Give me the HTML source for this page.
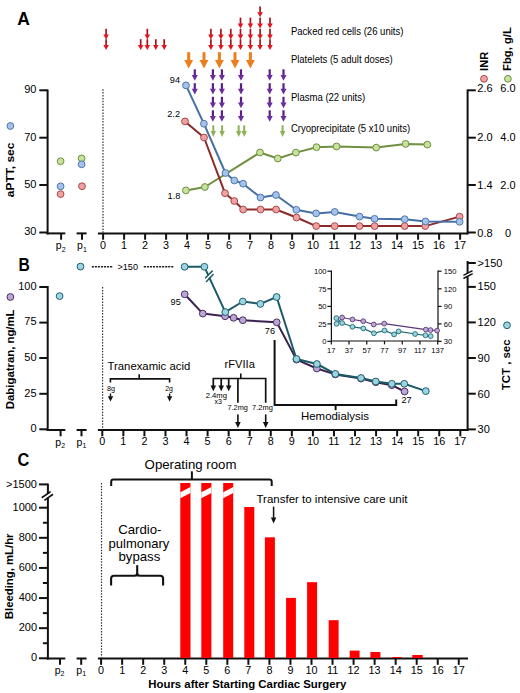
<!DOCTYPE html>
<html><head><meta charset="utf-8"><style>
html,body{margin:0;padding:0;background:#fff;width:520px;height:693px;overflow:hidden}
svg{display:block}
text{font-family:"Liberation Sans", sans-serif}
</style></head><body>
<svg width="520" height="693" viewBox="0 0 520 693">
<rect width="520" height="693" fill="#fff"/>
<!-- panel A -->
<text x="17.30" y="24.80" font-size="17.5" text-anchor="start" font-weight="bold" fill="#000" >A</text>
<rect x="105.25" y="28.80" width="1.7" height="6.40" fill="#a8121e"/>
<polygon points="103.35,34.60 108.85,34.60 106.10,39.60" fill="#e3141e"/>
<rect x="105.25" y="39.20" width="1.7" height="6.40" fill="#a8121e"/>
<polygon points="103.35,45.00 108.85,45.00 106.10,50.00" fill="#e3141e"/>
<rect x="139.85" y="39.20" width="1.7" height="6.40" fill="#a8121e"/>
<polygon points="137.95,45.00 143.45,45.00 140.70,50.00" fill="#e3141e"/>
<rect x="146.45" y="28.80" width="1.7" height="6.40" fill="#a8121e"/>
<polygon points="144.55,34.60 150.05,34.60 147.30,39.60" fill="#e3141e"/>
<rect x="146.45" y="39.20" width="1.7" height="6.40" fill="#a8121e"/>
<polygon points="144.55,45.00 150.05,45.00 147.30,50.00" fill="#e3141e"/>
<rect x="154.95" y="39.20" width="1.7" height="6.40" fill="#a8121e"/>
<polygon points="153.05,45.00 158.55,45.00 155.80,50.00" fill="#e3141e"/>
<rect x="163.35" y="39.20" width="1.7" height="6.40" fill="#a8121e"/>
<polygon points="161.45,45.00 166.95,45.00 164.20,50.00" fill="#e3141e"/>
<rect x="210.05" y="28.80" width="1.7" height="6.40" fill="#a8121e"/>
<polygon points="208.15,34.60 213.65,34.60 210.90,39.60" fill="#e3141e"/>
<rect x="210.05" y="39.20" width="1.7" height="6.40" fill="#a8121e"/>
<polygon points="208.15,45.00 213.65,45.00 210.90,50.00" fill="#e3141e"/>
<rect x="220.05" y="28.80" width="1.7" height="6.40" fill="#a8121e"/>
<polygon points="218.15,34.60 223.65,34.60 220.90,39.60" fill="#e3141e"/>
<rect x="220.05" y="39.20" width="1.7" height="6.40" fill="#a8121e"/>
<polygon points="218.15,45.00 223.65,45.00 220.90,50.00" fill="#e3141e"/>
<rect x="229.95" y="28.80" width="1.7" height="6.40" fill="#a8121e"/>
<polygon points="228.05,34.60 233.55,34.60 230.80,39.60" fill="#e3141e"/>
<rect x="229.95" y="39.20" width="1.7" height="6.40" fill="#a8121e"/>
<polygon points="228.05,45.00 233.55,45.00 230.80,50.00" fill="#e3141e"/>
<rect x="239.65" y="17.60" width="1.7" height="6.40" fill="#a8121e"/>
<polygon points="237.75,23.40 243.25,23.40 240.50,28.40" fill="#e3141e"/>
<rect x="239.65" y="28.80" width="1.7" height="6.40" fill="#a8121e"/>
<polygon points="237.75,34.60 243.25,34.60 240.50,39.60" fill="#e3141e"/>
<rect x="239.65" y="39.20" width="1.7" height="6.40" fill="#a8121e"/>
<polygon points="237.75,45.00 243.25,45.00 240.50,50.00" fill="#e3141e"/>
<rect x="249.55" y="17.60" width="1.7" height="6.40" fill="#a8121e"/>
<polygon points="247.65,23.40 253.15,23.40 250.40,28.40" fill="#e3141e"/>
<rect x="249.55" y="28.80" width="1.7" height="6.40" fill="#a8121e"/>
<polygon points="247.65,34.60 253.15,34.60 250.40,39.60" fill="#e3141e"/>
<rect x="249.55" y="39.20" width="1.7" height="6.40" fill="#a8121e"/>
<polygon points="247.65,45.00 253.15,45.00 250.40,50.00" fill="#e3141e"/>
<rect x="259.25" y="6.40" width="1.7" height="6.40" fill="#a8121e"/>
<polygon points="257.35,12.20 262.85,12.20 260.10,17.20" fill="#e3141e"/>
<rect x="259.25" y="17.60" width="1.7" height="6.40" fill="#a8121e"/>
<polygon points="257.35,23.40 262.85,23.40 260.10,28.40" fill="#e3141e"/>
<rect x="259.25" y="28.80" width="1.7" height="6.40" fill="#a8121e"/>
<polygon points="257.35,34.60 262.85,34.60 260.10,39.60" fill="#e3141e"/>
<rect x="259.25" y="39.20" width="1.7" height="6.40" fill="#a8121e"/>
<polygon points="257.35,45.00 262.85,45.00 260.10,50.00" fill="#e3141e"/>
<rect x="269.15" y="17.60" width="1.7" height="6.40" fill="#a8121e"/>
<polygon points="267.25,23.40 272.75,23.40 270.00,28.40" fill="#e3141e"/>
<rect x="269.15" y="28.80" width="1.7" height="6.40" fill="#a8121e"/>
<polygon points="267.25,34.60 272.75,34.60 270.00,39.60" fill="#e3141e"/>
<rect x="269.15" y="39.20" width="1.7" height="6.40" fill="#a8121e"/>
<polygon points="267.25,45.00 272.75,45.00 270.00,50.00" fill="#e3141e"/>
<rect x="187.20" y="52.20" width="3.0" height="8.40" fill="#ee7d1b"/>
<polygon points="184.30,60.00 193.10,60.00 188.70,68.60" fill="#ee7d1b"/>
<rect x="202.50" y="52.20" width="3.0" height="8.40" fill="#ee7d1b"/>
<polygon points="199.60,60.00 208.40,60.00 204.00,68.60" fill="#ee7d1b"/>
<rect x="217.90" y="52.20" width="3.0" height="8.40" fill="#ee7d1b"/>
<polygon points="215.00,60.00 223.80,60.00 219.40,68.60" fill="#ee7d1b"/>
<rect x="233.50" y="52.20" width="3.0" height="8.40" fill="#ee7d1b"/>
<polygon points="230.60,60.00 239.40,60.00 235.00,68.60" fill="#ee7d1b"/>
<rect x="248.90" y="52.20" width="3.0" height="8.40" fill="#ee7d1b"/>
<polygon points="246.00,60.00 254.80,60.00 250.40,68.60" fill="#ee7d1b"/>
<rect x="193.70" y="69.30" width="2.2" height="6.20" fill="#5a2088"/>
<polygon points="191.80,74.90 197.80,74.90 194.80,80.70" fill="#6b2c9e"/>
<rect x="193.70" y="83.20" width="2.2" height="6.20" fill="#5a2088"/>
<polygon points="191.80,88.80 197.80,88.80 194.80,94.60" fill="#6b2c9e"/>
<rect x="211.80" y="69.30" width="2.2" height="6.20" fill="#5a2088"/>
<polygon points="209.90,74.90 215.90,74.90 212.90,80.70" fill="#6b2c9e"/>
<rect x="211.80" y="83.20" width="2.2" height="6.20" fill="#5a2088"/>
<polygon points="209.90,88.80 215.90,88.80 212.90,94.60" fill="#6b2c9e"/>
<rect x="211.80" y="96.80" width="2.2" height="6.20" fill="#5a2088"/>
<polygon points="209.90,102.40 215.90,102.40 212.90,108.20" fill="#6b2c9e"/>
<rect x="211.80" y="110.30" width="2.2" height="6.20" fill="#5a2088"/>
<polygon points="209.90,115.90 215.90,115.90 212.90,121.70" fill="#6b2c9e"/>
<rect x="220.80" y="69.30" width="2.2" height="6.20" fill="#5a2088"/>
<polygon points="218.90,74.90 224.90,74.90 221.90,80.70" fill="#6b2c9e"/>
<rect x="220.80" y="83.20" width="2.2" height="6.20" fill="#5a2088"/>
<polygon points="218.90,88.80 224.90,88.80 221.90,94.60" fill="#6b2c9e"/>
<rect x="220.80" y="96.80" width="2.2" height="6.20" fill="#5a2088"/>
<polygon points="218.90,102.40 224.90,102.40 221.90,108.20" fill="#6b2c9e"/>
<rect x="220.80" y="110.30" width="2.2" height="6.20" fill="#5a2088"/>
<polygon points="218.90,115.90 224.90,115.90 221.90,121.70" fill="#6b2c9e"/>
<rect x="239.90" y="69.30" width="2.2" height="6.20" fill="#5a2088"/>
<polygon points="238.00,74.90 244.00,74.90 241.00,80.70" fill="#6b2c9e"/>
<rect x="239.90" y="83.20" width="2.2" height="6.20" fill="#5a2088"/>
<polygon points="238.00,88.80 244.00,88.80 241.00,94.60" fill="#6b2c9e"/>
<rect x="239.90" y="96.80" width="2.2" height="6.20" fill="#5a2088"/>
<polygon points="238.00,102.40 244.00,102.40 241.00,108.20" fill="#6b2c9e"/>
<rect x="239.90" y="110.30" width="2.2" height="6.20" fill="#5a2088"/>
<polygon points="238.00,115.90 244.00,115.90 241.00,121.70" fill="#6b2c9e"/>
<rect x="268.60" y="69.30" width="2.2" height="6.20" fill="#5a2088"/>
<polygon points="266.70,74.90 272.70,74.90 269.70,80.70" fill="#6b2c9e"/>
<rect x="268.60" y="83.20" width="2.2" height="6.20" fill="#5a2088"/>
<polygon points="266.70,88.80 272.70,88.80 269.70,94.60" fill="#6b2c9e"/>
<rect x="268.60" y="96.80" width="2.2" height="6.20" fill="#5a2088"/>
<polygon points="266.70,102.40 272.70,102.40 269.70,108.20" fill="#6b2c9e"/>
<rect x="268.60" y="110.30" width="2.2" height="6.20" fill="#5a2088"/>
<polygon points="266.70,115.90 272.70,115.90 269.70,121.70" fill="#6b2c9e"/>
<rect x="282.40" y="69.30" width="2.2" height="6.20" fill="#5a2088"/>
<polygon points="280.50,74.90 286.50,74.90 283.50,80.70" fill="#6b2c9e"/>
<rect x="282.40" y="83.20" width="2.2" height="6.20" fill="#5a2088"/>
<polygon points="280.50,88.80 286.50,88.80 283.50,94.60" fill="#6b2c9e"/>
<rect x="282.40" y="96.80" width="2.2" height="6.20" fill="#5a2088"/>
<polygon points="280.50,102.40 286.50,102.40 283.50,108.20" fill="#6b2c9e"/>
<rect x="282.40" y="110.30" width="2.2" height="6.20" fill="#5a2088"/>
<polygon points="280.50,115.90 286.50,115.90 283.50,121.70" fill="#6b2c9e"/>
<rect x="212.30" y="125.30" width="2.0" height="6.30" fill="#8db255"/>
<polygon points="210.60,131.00 216.00,131.00 213.30,137.00" fill="#8db255"/>
<rect x="221.10" y="125.30" width="2.0" height="6.30" fill="#8db255"/>
<polygon points="219.40,131.00 224.80,131.00 222.10,137.00" fill="#8db255"/>
<rect x="237.70" y="125.30" width="2.0" height="6.30" fill="#8db255"/>
<polygon points="236.00,131.00 241.40,131.00 238.70,137.00" fill="#8db255"/>
<rect x="243.20" y="125.30" width="2.0" height="6.30" fill="#8db255"/>
<polygon points="241.50,131.00 246.90,131.00 244.20,137.00" fill="#8db255"/>
<rect x="281.60" y="125.30" width="2.0" height="6.30" fill="#8db255"/>
<polygon points="279.90,131.00 285.30,131.00 282.60,137.00" fill="#8db255"/>
<text x="290.90" y="35.10" font-size="10.4" text-anchor="start" font-weight="normal" fill="#000" textLength="112.60" lengthAdjust="spacingAndGlyphs" >Packed red cells (26 units)</text>
<text x="290.90" y="62.70" font-size="10.4" text-anchor="start" font-weight="normal" fill="#000" textLength="101.80" lengthAdjust="spacingAndGlyphs" >Platelets (5 adult doses)</text>
<text x="290.90" y="100.60" font-size="10.4" text-anchor="start" font-weight="normal" fill="#000" textLength="74.30" lengthAdjust="spacingAndGlyphs" >Plasma (22 units)</text>
<text x="290.90" y="132.20" font-size="10.4" text-anchor="start" font-weight="normal" fill="#000" textLength="119.30" lengthAdjust="spacingAndGlyphs" >Cryoprecipitate (5 x10 units)</text>
<line x1="47.60" y1="89.50" x2="47.60" y2="234.40" stroke="#111" stroke-width="2" />
<line x1="39.30" y1="90.30" x2="47.60" y2="90.30" stroke="#111" stroke-width="2" />
<text x="36.40" y="93.10" font-size="11" text-anchor="end" font-weight="normal" fill="#000" >90</text>
<line x1="39.30" y1="137.70" x2="47.60" y2="137.70" stroke="#111" stroke-width="2" />
<text x="36.40" y="140.50" font-size="11" text-anchor="end" font-weight="normal" fill="#000" >70</text>
<line x1="39.30" y1="185.00" x2="47.60" y2="185.00" stroke="#111" stroke-width="2" />
<text x="36.40" y="187.80" font-size="11" text-anchor="end" font-weight="normal" fill="#000" >50</text>
<line x1="39.30" y1="232.50" x2="47.60" y2="232.50" stroke="#111" stroke-width="2" />
<text x="36.40" y="235.30" font-size="11" text-anchor="end" font-weight="normal" fill="#000" >30</text>
<line x1="46.60" y1="233.40" x2="65.30" y2="233.40" stroke="#111" stroke-width="2" />
<line x1="76.60" y1="233.40" x2="86.60" y2="233.40" stroke="#111" stroke-width="2" />
<line x1="97.90" y1="233.40" x2="468.00" y2="233.40" stroke="#111" stroke-width="2" />
<line x1="61.10" y1="233.40" x2="61.10" y2="239.70" stroke="#111" stroke-width="2" />
<line x1="82.00" y1="233.40" x2="82.00" y2="239.70" stroke="#111" stroke-width="2" />
<line x1="103.10" y1="233.40" x2="103.10" y2="239.70" stroke="#111" stroke-width="2" />
<text x="103.10" y="249.00" font-size="10.8" text-anchor="middle" font-weight="normal" fill="#000" >0</text>
<line x1="124.10" y1="233.40" x2="124.10" y2="239.70" stroke="#111" stroke-width="2" />
<text x="124.10" y="249.00" font-size="10.8" text-anchor="middle" font-weight="normal" fill="#000" >1</text>
<line x1="145.10" y1="233.40" x2="145.10" y2="239.70" stroke="#111" stroke-width="2" />
<text x="145.10" y="249.00" font-size="10.8" text-anchor="middle" font-weight="normal" fill="#000" >2</text>
<line x1="166.10" y1="233.40" x2="166.10" y2="239.70" stroke="#111" stroke-width="2" />
<text x="166.10" y="249.00" font-size="10.8" text-anchor="middle" font-weight="normal" fill="#000" >3</text>
<line x1="187.10" y1="233.40" x2="187.10" y2="239.70" stroke="#111" stroke-width="2" />
<text x="187.10" y="249.00" font-size="10.8" text-anchor="middle" font-weight="normal" fill="#000" >4</text>
<line x1="208.10" y1="233.40" x2="208.10" y2="239.70" stroke="#111" stroke-width="2" />
<text x="208.10" y="249.00" font-size="10.8" text-anchor="middle" font-weight="normal" fill="#000" >5</text>
<line x1="229.10" y1="233.40" x2="229.10" y2="239.70" stroke="#111" stroke-width="2" />
<text x="229.10" y="249.00" font-size="10.8" text-anchor="middle" font-weight="normal" fill="#000" >6</text>
<line x1="250.10" y1="233.40" x2="250.10" y2="239.70" stroke="#111" stroke-width="2" />
<text x="250.10" y="249.00" font-size="10.8" text-anchor="middle" font-weight="normal" fill="#000" >7</text>
<line x1="271.10" y1="233.40" x2="271.10" y2="239.70" stroke="#111" stroke-width="2" />
<text x="271.10" y="249.00" font-size="10.8" text-anchor="middle" font-weight="normal" fill="#000" >8</text>
<line x1="292.10" y1="233.40" x2="292.10" y2="239.70" stroke="#111" stroke-width="2" />
<text x="292.10" y="249.00" font-size="10.8" text-anchor="middle" font-weight="normal" fill="#000" >9</text>
<line x1="313.10" y1="233.40" x2="313.10" y2="239.70" stroke="#111" stroke-width="2" />
<text x="313.10" y="249.00" font-size="10.8" text-anchor="middle" font-weight="normal" fill="#000" >10</text>
<line x1="334.10" y1="233.40" x2="334.10" y2="239.70" stroke="#111" stroke-width="2" />
<text x="334.10" y="249.00" font-size="10.8" text-anchor="middle" font-weight="normal" fill="#000" >11</text>
<line x1="355.10" y1="233.40" x2="355.10" y2="239.70" stroke="#111" stroke-width="2" />
<text x="355.10" y="249.00" font-size="10.8" text-anchor="middle" font-weight="normal" fill="#000" >12</text>
<line x1="376.10" y1="233.40" x2="376.10" y2="239.70" stroke="#111" stroke-width="2" />
<text x="376.10" y="249.00" font-size="10.8" text-anchor="middle" font-weight="normal" fill="#000" >13</text>
<line x1="397.10" y1="233.40" x2="397.10" y2="239.70" stroke="#111" stroke-width="2" />
<text x="397.10" y="249.00" font-size="10.8" text-anchor="middle" font-weight="normal" fill="#000" >14</text>
<line x1="418.10" y1="233.40" x2="418.10" y2="239.70" stroke="#111" stroke-width="2" />
<text x="418.10" y="249.00" font-size="10.8" text-anchor="middle" font-weight="normal" fill="#000" >15</text>
<line x1="439.10" y1="233.40" x2="439.10" y2="239.70" stroke="#111" stroke-width="2" />
<text x="439.10" y="249.00" font-size="10.8" text-anchor="middle" font-weight="normal" fill="#000" >16</text>
<line x1="460.10" y1="233.40" x2="460.10" y2="239.70" stroke="#111" stroke-width="2" />
<text x="460.10" y="249.00" font-size="10.8" text-anchor="middle" font-weight="normal" fill="#000" >17</text>
<text x="55.80" y="249.20" font-size="10.5" text-anchor="start" font-weight="normal" fill="#000" >p</text>
<text x="61.70" y="251.70" font-size="7" text-anchor="start" font-weight="normal" fill="#000" >2</text>
<text x="77.10" y="249.20" font-size="10.5" text-anchor="start" font-weight="normal" fill="#000" >p</text>
<text x="83.00" y="251.70" font-size="7" text-anchor="start" font-weight="normal" fill="#000" >1</text>
<line x1="467.60" y1="89.50" x2="467.60" y2="234.40" stroke="#111" stroke-width="2" />
<line x1="467.60" y1="90.30" x2="475.80" y2="90.30" stroke="#111" stroke-width="2" />
<text x="477.30" y="92.20" font-size="11" text-anchor="start" font-weight="normal" fill="#000" >2.6</text>
<text x="508.00" y="92.20" font-size="11" text-anchor="middle" font-weight="normal" fill="#000" >6.0</text>
<line x1="467.60" y1="137.70" x2="475.80" y2="137.70" stroke="#111" stroke-width="2" />
<text x="477.30" y="140.70" font-size="11" text-anchor="start" font-weight="normal" fill="#000" >2.0</text>
<text x="508.00" y="140.70" font-size="11" text-anchor="middle" font-weight="normal" fill="#000" >4.0</text>
<line x1="467.60" y1="185.00" x2="475.80" y2="185.00" stroke="#111" stroke-width="2" />
<text x="477.30" y="189.30" font-size="11" text-anchor="start" font-weight="normal" fill="#000" >1.4</text>
<text x="508.00" y="189.30" font-size="11" text-anchor="middle" font-weight="normal" fill="#000" >2.0</text>
<line x1="467.60" y1="232.50" x2="475.80" y2="232.50" stroke="#111" stroke-width="2" />
<text x="477.30" y="237.20" font-size="11" text-anchor="start" font-weight="normal" fill="#000" >0.8</text>
<text x="508.00" y="237.20" font-size="11" text-anchor="middle" font-weight="normal" fill="#000" >0</text>
<line x1="103.00" y1="89.20" x2="103.00" y2="233.00" stroke="#333" stroke-width="1.2" stroke-dasharray="1.5 1.4"/>
<circle cx="10.40" cy="126.00" r="3.4" fill="#a4c2ec" stroke="#4f77ad" stroke-width="1"/>
<text x="14.40" y="169.90" font-size="11.4" text-anchor="middle" font-weight="bold" fill="#000" textLength="54.80" lengthAdjust="spacingAndGlyphs" transform="rotate(-90 14.40 169.90)" >aPTT, sec</text>
<circle cx="484.00" cy="78.80" r="3.4" fill="#f0a2a2" stroke="#a84848" stroke-width="1"/>
<circle cx="507.90" cy="78.80" r="3.4" fill="#c6e29c" stroke="#6f8f3e" stroke-width="1"/>
<text x="488.00" y="70.90" font-size="11" text-anchor="start" font-weight="bold" fill="#000" textLength="19.00" lengthAdjust="spacingAndGlyphs" transform="rotate(-90 488.00 70.90)" >INR</text>
<text x="511.40" y="70.90" font-size="11" text-anchor="start" font-weight="bold" fill="#000" textLength="43.70" lengthAdjust="spacingAndGlyphs" transform="rotate(-90 511.40 70.90)" >Fbg, g/L</text>
<polyline points="185.90,190.40 204.90,187.00 260.00,152.50 277.80,158.50 295.90,152.60 316.50,147.20 336.60,146.50 376.20,147.60 405.60,143.90 427.30,144.60" fill="none" stroke="#6f9040" stroke-width="2" stroke-linejoin="round" />
<polyline points="185.00,121.40 204.00,137.50 225.00,193.20 234.30,201.00 243.10,209.50 260.50,209.50 276.10,209.50 296.50,217.50 316.20,226.10 334.70,226.10 359.50,226.10 374.60,226.10 404.70,226.10 425.20,226.10 459.60,216.60" fill="none" stroke="#8c2a2a" stroke-width="2" stroke-linejoin="round" />
<polyline points="186.00,85.40 203.90,123.70 225.50,173.00 234.30,180.50 243.10,183.70 260.50,197.50 275.90,195.00 296.30,209.80 316.10,213.40 334.70,211.90 359.50,216.60 374.60,218.80 404.70,219.20 425.50,221.40 459.60,221.80" fill="none" stroke="#466fa6" stroke-width="2" stroke-linejoin="round" />
<circle cx="185.90" cy="190.40" r="3.4" fill="#c6e29c" stroke="#6f8f3e" stroke-width="1"/>
<circle cx="204.90" cy="187.00" r="3.4" fill="#c6e29c" stroke="#6f8f3e" stroke-width="1"/>
<circle cx="260.00" cy="152.50" r="3.4" fill="#c6e29c" stroke="#6f8f3e" stroke-width="1"/>
<circle cx="277.80" cy="158.50" r="3.4" fill="#c6e29c" stroke="#6f8f3e" stroke-width="1"/>
<circle cx="295.90" cy="152.60" r="3.4" fill="#c6e29c" stroke="#6f8f3e" stroke-width="1"/>
<circle cx="316.50" cy="147.20" r="3.4" fill="#c6e29c" stroke="#6f8f3e" stroke-width="1"/>
<circle cx="336.60" cy="146.50" r="3.4" fill="#c6e29c" stroke="#6f8f3e" stroke-width="1"/>
<circle cx="376.20" cy="147.60" r="3.4" fill="#c6e29c" stroke="#6f8f3e" stroke-width="1"/>
<circle cx="405.60" cy="143.90" r="3.4" fill="#c6e29c" stroke="#6f8f3e" stroke-width="1"/>
<circle cx="427.30" cy="144.60" r="3.4" fill="#c6e29c" stroke="#6f8f3e" stroke-width="1"/>
<circle cx="185.00" cy="121.40" r="3.4" fill="#f0a2a2" stroke="#a84848" stroke-width="1"/>
<circle cx="204.00" cy="137.50" r="3.4" fill="#f0a2a2" stroke="#a84848" stroke-width="1"/>
<circle cx="225.00" cy="193.20" r="3.4" fill="#f0a2a2" stroke="#a84848" stroke-width="1"/>
<circle cx="234.30" cy="201.00" r="3.4" fill="#f0a2a2" stroke="#a84848" stroke-width="1"/>
<circle cx="243.10" cy="209.50" r="3.4" fill="#f0a2a2" stroke="#a84848" stroke-width="1"/>
<circle cx="260.50" cy="209.50" r="3.4" fill="#f0a2a2" stroke="#a84848" stroke-width="1"/>
<circle cx="276.10" cy="209.50" r="3.4" fill="#f0a2a2" stroke="#a84848" stroke-width="1"/>
<circle cx="296.50" cy="217.50" r="3.4" fill="#f0a2a2" stroke="#a84848" stroke-width="1"/>
<circle cx="316.20" cy="226.10" r="3.4" fill="#f0a2a2" stroke="#a84848" stroke-width="1"/>
<circle cx="334.70" cy="226.10" r="3.4" fill="#f0a2a2" stroke="#a84848" stroke-width="1"/>
<circle cx="359.50" cy="226.10" r="3.4" fill="#f0a2a2" stroke="#a84848" stroke-width="1"/>
<circle cx="374.60" cy="226.10" r="3.4" fill="#f0a2a2" stroke="#a84848" stroke-width="1"/>
<circle cx="404.70" cy="226.10" r="3.4" fill="#f0a2a2" stroke="#a84848" stroke-width="1"/>
<circle cx="425.20" cy="226.10" r="3.4" fill="#f0a2a2" stroke="#a84848" stroke-width="1"/>
<circle cx="459.60" cy="216.60" r="3.4" fill="#f0a2a2" stroke="#a84848" stroke-width="1"/>
<circle cx="186.00" cy="85.40" r="3.4" fill="#a4c2ec" stroke="#4f77ad" stroke-width="1"/>
<circle cx="203.90" cy="123.70" r="3.4" fill="#a4c2ec" stroke="#4f77ad" stroke-width="1"/>
<circle cx="225.50" cy="173.00" r="3.4" fill="#a4c2ec" stroke="#4f77ad" stroke-width="1"/>
<circle cx="234.30" cy="180.50" r="3.4" fill="#a4c2ec" stroke="#4f77ad" stroke-width="1"/>
<circle cx="243.10" cy="183.70" r="3.4" fill="#a4c2ec" stroke="#4f77ad" stroke-width="1"/>
<circle cx="260.50" cy="197.50" r="3.4" fill="#a4c2ec" stroke="#4f77ad" stroke-width="1"/>
<circle cx="275.90" cy="195.00" r="3.4" fill="#a4c2ec" stroke="#4f77ad" stroke-width="1"/>
<circle cx="296.30" cy="209.80" r="3.4" fill="#a4c2ec" stroke="#4f77ad" stroke-width="1"/>
<circle cx="316.10" cy="213.40" r="3.4" fill="#a4c2ec" stroke="#4f77ad" stroke-width="1"/>
<circle cx="334.70" cy="211.90" r="3.4" fill="#a4c2ec" stroke="#4f77ad" stroke-width="1"/>
<circle cx="359.50" cy="216.60" r="3.4" fill="#a4c2ec" stroke="#4f77ad" stroke-width="1"/>
<circle cx="374.60" cy="218.80" r="3.4" fill="#a4c2ec" stroke="#4f77ad" stroke-width="1"/>
<circle cx="404.70" cy="219.20" r="3.4" fill="#a4c2ec" stroke="#4f77ad" stroke-width="1"/>
<circle cx="425.50" cy="221.40" r="3.4" fill="#a4c2ec" stroke="#4f77ad" stroke-width="1"/>
<circle cx="459.60" cy="221.80" r="3.4" fill="#a4c2ec" stroke="#4f77ad" stroke-width="1"/>
<circle cx="60.60" cy="161.20" r="3.4" fill="#c6e29c" stroke="#6f8f3e" stroke-width="1"/>
<circle cx="81.60" cy="158.40" r="3.4" fill="#c6e29c" stroke="#6f8f3e" stroke-width="1"/>
<circle cx="60.60" cy="194.10" r="3.4" fill="#f0a2a2" stroke="#a84848" stroke-width="1"/>
<circle cx="82.00" cy="186.20" r="3.4" fill="#f0a2a2" stroke="#a84848" stroke-width="1"/>
<circle cx="60.60" cy="186.30" r="3.4" fill="#a4c2ec" stroke="#4f77ad" stroke-width="1"/>
<circle cx="81.60" cy="164.30" r="3.4" fill="#a4c2ec" stroke="#4f77ad" stroke-width="1"/>
<text x="180.00" y="82.60" font-size="9.2" text-anchor="end" font-weight="normal" fill="#000" >94</text>
<text x="180.00" y="116.50" font-size="9.2" text-anchor="end" font-weight="normal" fill="#000" >2.2</text>
<text x="180.40" y="198.50" font-size="9.2" text-anchor="end" font-weight="normal" fill="#000" >1.8</text>
<text x="18.40" y="271.30" font-size="17.8" text-anchor="start" font-weight="bold" fill="#000" textLength="11.30" lengthAdjust="spacingAndGlyphs" >B</text>
<line x1="47.70" y1="286.00" x2="47.70" y2="431.00" stroke="#111" stroke-width="2" />
<line x1="39.30" y1="287.00" x2="47.70" y2="287.00" stroke="#111" stroke-width="2" />
<text x="36.60" y="289.80" font-size="11" text-anchor="end" font-weight="normal" fill="#000" >100</text>
<line x1="39.30" y1="322.60" x2="47.70" y2="322.60" stroke="#111" stroke-width="2" />
<text x="36.60" y="325.40" font-size="11" text-anchor="end" font-weight="normal" fill="#000" >75</text>
<line x1="39.30" y1="358.00" x2="47.70" y2="358.00" stroke="#111" stroke-width="2" />
<text x="36.60" y="360.80" font-size="11" text-anchor="end" font-weight="normal" fill="#000" >50</text>
<line x1="39.30" y1="393.80" x2="47.70" y2="393.80" stroke="#111" stroke-width="2" />
<text x="36.60" y="396.60" font-size="11" text-anchor="end" font-weight="normal" fill="#000" >25</text>
<line x1="39.30" y1="429.30" x2="47.70" y2="429.30" stroke="#111" stroke-width="2" />
<text x="36.60" y="432.10" font-size="11" text-anchor="end" font-weight="normal" fill="#000" >0</text>
<line x1="46.60" y1="430.00" x2="65.30" y2="430.00" stroke="#111" stroke-width="2" />
<line x1="76.60" y1="430.00" x2="86.60" y2="430.00" stroke="#111" stroke-width="2" />
<line x1="97.90" y1="430.00" x2="468.00" y2="430.00" stroke="#111" stroke-width="2" />
<line x1="60.60" y1="430.00" x2="60.60" y2="436.30" stroke="#111" stroke-width="2" />
<line x1="81.50" y1="430.00" x2="81.50" y2="436.30" stroke="#111" stroke-width="2" />
<line x1="102.30" y1="430.00" x2="102.30" y2="436.30" stroke="#111" stroke-width="2" />
<text x="102.30" y="445.40" font-size="10.8" text-anchor="middle" font-weight="normal" fill="#000" >0</text>
<line x1="123.36" y1="430.00" x2="123.36" y2="436.30" stroke="#111" stroke-width="2" />
<text x="123.36" y="445.40" font-size="10.8" text-anchor="middle" font-weight="normal" fill="#000" >1</text>
<line x1="144.42" y1="430.00" x2="144.42" y2="436.30" stroke="#111" stroke-width="2" />
<text x="144.42" y="445.40" font-size="10.8" text-anchor="middle" font-weight="normal" fill="#000" >2</text>
<line x1="165.48" y1="430.00" x2="165.48" y2="436.30" stroke="#111" stroke-width="2" />
<text x="165.48" y="445.40" font-size="10.8" text-anchor="middle" font-weight="normal" fill="#000" >3</text>
<line x1="186.54" y1="430.00" x2="186.54" y2="436.30" stroke="#111" stroke-width="2" />
<text x="186.54" y="445.40" font-size="10.8" text-anchor="middle" font-weight="normal" fill="#000" >4</text>
<line x1="207.60" y1="430.00" x2="207.60" y2="436.30" stroke="#111" stroke-width="2" />
<text x="207.60" y="445.40" font-size="10.8" text-anchor="middle" font-weight="normal" fill="#000" >5</text>
<line x1="228.66" y1="430.00" x2="228.66" y2="436.30" stroke="#111" stroke-width="2" />
<text x="228.66" y="445.40" font-size="10.8" text-anchor="middle" font-weight="normal" fill="#000" >6</text>
<line x1="249.72" y1="430.00" x2="249.72" y2="436.30" stroke="#111" stroke-width="2" />
<text x="249.72" y="445.40" font-size="10.8" text-anchor="middle" font-weight="normal" fill="#000" >7</text>
<line x1="270.78" y1="430.00" x2="270.78" y2="436.30" stroke="#111" stroke-width="2" />
<text x="270.78" y="445.40" font-size="10.8" text-anchor="middle" font-weight="normal" fill="#000" >8</text>
<line x1="291.84" y1="430.00" x2="291.84" y2="436.30" stroke="#111" stroke-width="2" />
<text x="291.84" y="445.40" font-size="10.8" text-anchor="middle" font-weight="normal" fill="#000" >9</text>
<line x1="312.90" y1="430.00" x2="312.90" y2="436.30" stroke="#111" stroke-width="2" />
<text x="312.90" y="445.40" font-size="10.8" text-anchor="middle" font-weight="normal" fill="#000" >10</text>
<line x1="333.96" y1="430.00" x2="333.96" y2="436.30" stroke="#111" stroke-width="2" />
<text x="333.96" y="445.40" font-size="10.8" text-anchor="middle" font-weight="normal" fill="#000" >11</text>
<line x1="355.02" y1="430.00" x2="355.02" y2="436.30" stroke="#111" stroke-width="2" />
<text x="355.02" y="445.40" font-size="10.8" text-anchor="middle" font-weight="normal" fill="#000" >12</text>
<line x1="376.08" y1="430.00" x2="376.08" y2="436.30" stroke="#111" stroke-width="2" />
<text x="376.08" y="445.40" font-size="10.8" text-anchor="middle" font-weight="normal" fill="#000" >13</text>
<line x1="397.14" y1="430.00" x2="397.14" y2="436.30" stroke="#111" stroke-width="2" />
<text x="397.14" y="445.40" font-size="10.8" text-anchor="middle" font-weight="normal" fill="#000" >14</text>
<line x1="418.20" y1="430.00" x2="418.20" y2="436.30" stroke="#111" stroke-width="2" />
<text x="418.20" y="445.40" font-size="10.8" text-anchor="middle" font-weight="normal" fill="#000" >15</text>
<line x1="439.26" y1="430.00" x2="439.26" y2="436.30" stroke="#111" stroke-width="2" />
<text x="439.26" y="445.40" font-size="10.8" text-anchor="middle" font-weight="normal" fill="#000" >16</text>
<line x1="460.32" y1="430.00" x2="460.32" y2="436.30" stroke="#111" stroke-width="2" />
<text x="460.32" y="445.40" font-size="10.8" text-anchor="middle" font-weight="normal" fill="#000" >17</text>
<text x="55.30" y="445.60" font-size="10.5" text-anchor="start" font-weight="normal" fill="#000" >p</text>
<text x="61.20" y="448.10" font-size="7" text-anchor="start" font-weight="normal" fill="#000" >2</text>
<text x="76.60" y="445.60" font-size="10.5" text-anchor="start" font-weight="normal" fill="#000" >p</text>
<text x="82.50" y="448.10" font-size="7" text-anchor="start" font-weight="normal" fill="#000" >1</text>
<line x1="467.60" y1="261.00" x2="467.60" y2="273.00" stroke="#111" stroke-width="2" />
<line x1="467.60" y1="276.50" x2="467.60" y2="431.00" stroke="#111" stroke-width="2" />
<line x1="467.60" y1="263.00" x2="475.80" y2="263.00" stroke="#111" stroke-width="2" />
<text x="477.60" y="266.90" font-size="11" text-anchor="start" font-weight="normal" fill="#000" >&gt;150</text>
<line x1="467.60" y1="286.90" x2="475.80" y2="286.90" stroke="#111" stroke-width="2" />
<text x="477.60" y="289.60" font-size="11" text-anchor="start" font-weight="normal" fill="#000" >150</text>
<line x1="467.60" y1="322.40" x2="475.80" y2="322.40" stroke="#111" stroke-width="2" />
<text x="477.60" y="325.70" font-size="11" text-anchor="start" font-weight="normal" fill="#000" >120</text>
<line x1="467.60" y1="358.00" x2="475.80" y2="358.00" stroke="#111" stroke-width="2" />
<text x="477.60" y="361.60" font-size="11" text-anchor="start" font-weight="normal" fill="#000" >90</text>
<line x1="467.60" y1="393.70" x2="475.80" y2="393.70" stroke="#111" stroke-width="2" />
<text x="477.60" y="397.60" font-size="11" text-anchor="start" font-weight="normal" fill="#000" >60</text>
<line x1="467.60" y1="429.40" x2="475.80" y2="429.40" stroke="#111" stroke-width="2" />
<text x="477.60" y="433.30" font-size="11" text-anchor="start" font-weight="normal" fill="#000" >30</text>
<line x1="463.40" y1="275.40" x2="472.50" y2="270.60" stroke="#111" stroke-width="1.5" />
<line x1="463.40" y1="278.50" x2="472.70" y2="273.60" stroke="#111" stroke-width="1.5" />
<line x1="102.60" y1="287.00" x2="102.60" y2="429.50" stroke="#333" stroke-width="1.2" stroke-dasharray="1.5 1.4"/>
<circle cx="10.40" cy="297.00" r="3.4" fill="#bba6d6" stroke="#4a2f62" stroke-width="1"/>
<circle cx="507.00" cy="325.30" r="3.4" fill="#9bd5e2" stroke="#1f5f6c" stroke-width="1"/>
<text x="13.60" y="359.30" font-size="11.4" text-anchor="middle" font-weight="bold" fill="#000" textLength="99.70" lengthAdjust="spacingAndGlyphs" transform="rotate(-90 13.60 359.30)" >Dabigatran, ng/mL</text>
<text x="510.30" y="364.85" font-size="11.4" text-anchor="middle" font-weight="bold" fill="#000" textLength="50.90" lengthAdjust="spacingAndGlyphs" transform="rotate(-90 510.30 364.85)" >TCT , sec</text>
<line x1="91.80" y1="266.80" x2="113.20" y2="266.80" stroke="#222" stroke-width="1.6" stroke-dasharray="2.1 0.95"/>
<line x1="143.80" y1="266.80" x2="173.90" y2="266.80" stroke="#222" stroke-width="1.6" stroke-dasharray="2.1 0.95"/>
<text x="117.40" y="270.00" font-size="9.5" text-anchor="start" font-weight="normal" fill="#000" textLength="20.60" lengthAdjust="spacingAndGlyphs" >&gt;150</text>
<polyline points="184.70,294.30 202.80,313.60 225.10,316.30 233.60,317.80 242.80,320.20 276.70,322.30 296.50,359.60 316.80,368.50 335.30,374.40 361.00,378.60 375.80,382.20 391.80,385.20 404.60,391.50" fill="none" stroke="#3a2150" stroke-width="2" stroke-linejoin="round" />
<circle cx="184.70" cy="294.30" r="3.4" fill="#bba6d6" stroke="#4a2f62" stroke-width="1"/>
<circle cx="202.80" cy="313.60" r="3.4" fill="#bba6d6" stroke="#4a2f62" stroke-width="1"/>
<circle cx="225.10" cy="316.30" r="3.4" fill="#bba6d6" stroke="#4a2f62" stroke-width="1"/>
<circle cx="233.60" cy="317.80" r="3.4" fill="#bba6d6" stroke="#4a2f62" stroke-width="1"/>
<circle cx="242.80" cy="320.20" r="3.4" fill="#bba6d6" stroke="#4a2f62" stroke-width="1"/>
<circle cx="276.70" cy="322.30" r="3.4" fill="#bba6d6" stroke="#4a2f62" stroke-width="1"/>
<circle cx="296.50" cy="359.60" r="3.4" fill="#bba6d6" stroke="#4a2f62" stroke-width="1"/>
<circle cx="316.80" cy="368.50" r="3.4" fill="#bba6d6" stroke="#4a2f62" stroke-width="1"/>
<circle cx="335.30" cy="374.40" r="3.4" fill="#bba6d6" stroke="#4a2f62" stroke-width="1"/>
<circle cx="361.00" cy="378.60" r="3.4" fill="#bba6d6" stroke="#4a2f62" stroke-width="1"/>
<circle cx="375.80" cy="382.20" r="3.4" fill="#bba6d6" stroke="#4a2f62" stroke-width="1"/>
<circle cx="391.80" cy="385.20" r="3.4" fill="#bba6d6" stroke="#4a2f62" stroke-width="1"/>
<circle cx="404.60" cy="391.50" r="3.4" fill="#bba6d6" stroke="#4a2f62" stroke-width="1"/>
<polyline points="184.60,266.80 204.40,266.80 225.30,312.10 242.80,301.50 260.40,303.90 276.60,297.00 296.50,359.00 316.90,364.00 335.30,373.90 361.00,378.00 375.80,381.50 391.80,383.80 404.30,383.80 425.80,391.10" fill="none" stroke="#1c5a66" stroke-width="2" stroke-linejoin="round" />
<polygon points="205.6,276.6 212.4,272.0 213.2,274.6 206.2,279.6" fill="#ffffff"/>
<line x1="205.10" y1="278.20" x2="212.60" y2="270.60" stroke="#1c5a66" stroke-width="1.5" />
<line x1="206.10" y1="281.90" x2="213.50" y2="274.00" stroke="#1c5a66" stroke-width="1.5" />
<circle cx="184.60" cy="266.80" r="3.4" fill="#9bd5e2" stroke="#1f5f6c" stroke-width="1"/>
<circle cx="204.40" cy="266.80" r="3.4" fill="#9bd5e2" stroke="#1f5f6c" stroke-width="1"/>
<circle cx="225.30" cy="312.10" r="3.4" fill="#9bd5e2" stroke="#1f5f6c" stroke-width="1"/>
<circle cx="242.80" cy="301.50" r="3.4" fill="#9bd5e2" stroke="#1f5f6c" stroke-width="1"/>
<circle cx="260.40" cy="303.90" r="3.4" fill="#9bd5e2" stroke="#1f5f6c" stroke-width="1"/>
<circle cx="276.60" cy="297.00" r="3.4" fill="#9bd5e2" stroke="#1f5f6c" stroke-width="1"/>
<circle cx="296.50" cy="359.00" r="3.4" fill="#9bd5e2" stroke="#1f5f6c" stroke-width="1"/>
<circle cx="316.90" cy="364.00" r="3.4" fill="#9bd5e2" stroke="#1f5f6c" stroke-width="1"/>
<circle cx="335.30" cy="373.90" r="3.4" fill="#9bd5e2" stroke="#1f5f6c" stroke-width="1"/>
<circle cx="361.00" cy="378.00" r="3.4" fill="#9bd5e2" stroke="#1f5f6c" stroke-width="1"/>
<circle cx="375.80" cy="381.50" r="3.4" fill="#9bd5e2" stroke="#1f5f6c" stroke-width="1"/>
<circle cx="391.80" cy="383.80" r="3.4" fill="#9bd5e2" stroke="#1f5f6c" stroke-width="1"/>
<circle cx="404.30" cy="383.80" r="3.4" fill="#9bd5e2" stroke="#1f5f6c" stroke-width="1"/>
<circle cx="425.80" cy="391.10" r="3.4" fill="#9bd5e2" stroke="#1f5f6c" stroke-width="1"/>
<circle cx="59.60" cy="296.10" r="3.4" fill="#9bd5e2" stroke="#1f5f6c" stroke-width="1"/>
<circle cx="80.50" cy="266.60" r="3.4" fill="#9bd5e2" stroke="#1f5f6c" stroke-width="1"/>
<text x="180.80" y="305.40" font-size="9.2" text-anchor="end" font-weight="normal" fill="#000" >95</text>
<text x="275.10" y="333.80" font-size="9.2" text-anchor="end" font-weight="normal" fill="#000" >76</text>
<text x="401.50" y="403.00" font-size="9.2" text-anchor="start" font-weight="normal" fill="#000" >27</text>
<line x1="331.40" y1="270.60" x2="331.40" y2="341.60" stroke="#111" stroke-width="1.2" />
<line x1="331.40" y1="341.00" x2="438.00" y2="341.00" stroke="#111" stroke-width="1.2" />
<line x1="438.00" y1="270.60" x2="438.00" y2="341.60" stroke="#111" stroke-width="1.2" />
<line x1="327.40" y1="271.20" x2="331.40" y2="271.20" stroke="#111" stroke-width="1.2" />
<line x1="438.00" y1="271.20" x2="441.60" y2="271.20" stroke="#111" stroke-width="1.2" />
<text x="326.60" y="273.90" font-size="7.6" text-anchor="end" font-weight="normal" fill="#000" >100</text>
<text x="443.70" y="273.90" font-size="7.6" text-anchor="start" font-weight="normal" fill="#000" >150</text>
<line x1="327.40" y1="288.80" x2="331.40" y2="288.80" stroke="#111" stroke-width="1.2" />
<line x1="438.00" y1="288.80" x2="441.60" y2="288.80" stroke="#111" stroke-width="1.2" />
<text x="326.60" y="291.50" font-size="7.6" text-anchor="end" font-weight="normal" fill="#000" >75</text>
<text x="443.70" y="291.50" font-size="7.6" text-anchor="start" font-weight="normal" fill="#000" >120</text>
<line x1="327.40" y1="306.40" x2="331.40" y2="306.40" stroke="#111" stroke-width="1.2" />
<line x1="438.00" y1="306.40" x2="441.60" y2="306.40" stroke="#111" stroke-width="1.2" />
<text x="326.60" y="309.10" font-size="7.6" text-anchor="end" font-weight="normal" fill="#000" >50</text>
<text x="443.70" y="309.10" font-size="7.6" text-anchor="start" font-weight="normal" fill="#000" >90</text>
<line x1="327.40" y1="323.90" x2="331.40" y2="323.90" stroke="#111" stroke-width="1.2" />
<line x1="438.00" y1="323.90" x2="441.60" y2="323.90" stroke="#111" stroke-width="1.2" />
<text x="326.60" y="326.60" font-size="7.6" text-anchor="end" font-weight="normal" fill="#000" >25</text>
<text x="443.70" y="326.60" font-size="7.6" text-anchor="start" font-weight="normal" fill="#000" >60</text>
<line x1="327.40" y1="341.30" x2="331.40" y2="341.30" stroke="#111" stroke-width="1.2" />
<line x1="438.00" y1="341.30" x2="441.60" y2="341.30" stroke="#111" stroke-width="1.2" />
<text x="326.60" y="344.00" font-size="7.6" text-anchor="end" font-weight="normal" fill="#000" >0</text>
<text x="443.70" y="344.00" font-size="7.6" text-anchor="start" font-weight="normal" fill="#000" >30</text>
<line x1="331.30" y1="341.00" x2="331.30" y2="344.40" stroke="#111" stroke-width="1.2" />
<text x="331.30" y="353.40" font-size="7.6" text-anchor="middle" font-weight="normal" fill="#000" >17</text>
<line x1="349.03" y1="341.00" x2="349.03" y2="344.40" stroke="#111" stroke-width="1.2" />
<text x="349.03" y="353.40" font-size="7.6" text-anchor="middle" font-weight="normal" fill="#000" >37</text>
<line x1="366.77" y1="341.00" x2="366.77" y2="344.40" stroke="#111" stroke-width="1.2" />
<text x="366.77" y="353.40" font-size="7.6" text-anchor="middle" font-weight="normal" fill="#000" >57</text>
<line x1="384.50" y1="341.00" x2="384.50" y2="344.40" stroke="#111" stroke-width="1.2" />
<text x="384.50" y="353.40" font-size="7.6" text-anchor="middle" font-weight="normal" fill="#000" >77</text>
<line x1="402.24" y1="341.00" x2="402.24" y2="344.40" stroke="#111" stroke-width="1.2" />
<text x="402.24" y="353.40" font-size="7.6" text-anchor="middle" font-weight="normal" fill="#000" >97</text>
<line x1="419.97" y1="341.00" x2="419.97" y2="344.40" stroke="#111" stroke-width="1.2" />
<text x="419.97" y="353.40" font-size="7.6" text-anchor="middle" font-weight="normal" fill="#000" >117</text>
<line x1="437.70" y1="341.00" x2="437.70" y2="344.40" stroke="#111" stroke-width="1.2" />
<text x="437.70" y="353.40" font-size="7.6" text-anchor="middle" font-weight="normal" fill="#000" >137</text>
<polyline points="342.10,317.50 352.50,319.50 363.20,321.20 373.70,324.50 384.20,323.60 425.80,329.60 430.50,330.10 437.10,330.60" fill="none" stroke="#5a3a78" stroke-width="1.2" stroke-linejoin="round" />
<polyline points="336.30,318.10 342.10,323.00 352.50,326.80 363.30,328.40 373.90,333.30 384.50,330.50 394.10,334.40 398.60,331.40 415.10,334.00 425.50,335.30 430.70,336.10" fill="none" stroke="#1f6a72" stroke-width="1.2" stroke-linejoin="round" />
<line x1="336.60" y1="323.80" x2="342.10" y2="317.50" stroke="#1f6a72" stroke-width="1.0" />
<circle cx="342.10" cy="317.50" r="2.4" fill="#bba6d6" stroke="#5a3a78" stroke-width="0.9"/>
<circle cx="352.50" cy="319.50" r="2.4" fill="#bba6d6" stroke="#5a3a78" stroke-width="0.9"/>
<circle cx="363.20" cy="321.20" r="2.4" fill="#bba6d6" stroke="#5a3a78" stroke-width="0.9"/>
<circle cx="373.70" cy="324.50" r="2.4" fill="#bba6d6" stroke="#5a3a78" stroke-width="0.9"/>
<circle cx="384.20" cy="323.60" r="2.4" fill="#bba6d6" stroke="#5a3a78" stroke-width="0.9"/>
<circle cx="425.80" cy="329.60" r="2.4" fill="#bba6d6" stroke="#5a3a78" stroke-width="0.9"/>
<circle cx="430.50" cy="330.10" r="2.4" fill="#bba6d6" stroke="#5a3a78" stroke-width="0.9"/>
<circle cx="437.10" cy="330.60" r="2.4" fill="#bba6d6" stroke="#5a3a78" stroke-width="0.9"/>
<circle cx="336.30" cy="318.10" r="2.4" fill="#9bd5e2" stroke="#1f6a72" stroke-width="0.9"/>
<circle cx="342.10" cy="323.00" r="2.4" fill="#9bd5e2" stroke="#1f6a72" stroke-width="0.9"/>
<circle cx="352.50" cy="326.80" r="2.4" fill="#9bd5e2" stroke="#1f6a72" stroke-width="0.9"/>
<circle cx="363.30" cy="328.40" r="2.4" fill="#9bd5e2" stroke="#1f6a72" stroke-width="0.9"/>
<circle cx="373.90" cy="333.30" r="2.4" fill="#9bd5e2" stroke="#1f6a72" stroke-width="0.9"/>
<circle cx="384.50" cy="330.50" r="2.4" fill="#9bd5e2" stroke="#1f6a72" stroke-width="0.9"/>
<circle cx="394.10" cy="334.40" r="2.4" fill="#9bd5e2" stroke="#1f6a72" stroke-width="0.9"/>
<circle cx="398.60" cy="331.40" r="2.4" fill="#9bd5e2" stroke="#1f6a72" stroke-width="0.9"/>
<circle cx="415.10" cy="334.00" r="2.4" fill="#9bd5e2" stroke="#1f6a72" stroke-width="0.9"/>
<circle cx="425.50" cy="335.30" r="2.4" fill="#9bd5e2" stroke="#1f6a72" stroke-width="0.9"/>
<circle cx="430.70" cy="336.10" r="2.4" fill="#9bd5e2" stroke="#1f6a72" stroke-width="0.9"/>
<circle cx="336.60" cy="323.80" r="2.4" fill="#9bd5e2" stroke="#1f6a72" stroke-width="0.9"/>
<path d="M274.6,340 L274.6,405 L396.2,405 L396.2,399.4" fill="none" stroke="#111" stroke-width="2"/>
<line x1="335.60" y1="405.00" x2="335.60" y2="410.20" stroke="#111" stroke-width="2" />
<text x="301.00" y="420.00" font-size="10.8" text-anchor="start" font-weight="normal" fill="#000" textLength="68.00" lengthAdjust="spacingAndGlyphs" >Hemodialysis</text>
<text x="107.50" y="369.80" font-size="11.2" text-anchor="start" font-weight="normal" fill="#000" textLength="82.70" lengthAdjust="spacingAndGlyphs" >Tranexamic acid</text>
<path d="M110.4,382.6 L110.4,378.9 L169.6,378.9 L169.6,382.6" fill="none" stroke="#111" stroke-width="1.6"/>
<line x1="139.20" y1="378.90" x2="139.20" y2="374.20" stroke="#111" stroke-width="1.6" />
<text x="107.10" y="391.00" font-size="7.6" text-anchor="start" font-weight="normal" fill="#000" textLength="8.00" lengthAdjust="spacingAndGlyphs" >8g</text>
<text x="165.20" y="391.00" font-size="7.6" text-anchor="start" font-weight="normal" fill="#000" textLength="7.70" lengthAdjust="spacingAndGlyphs" >2g</text>
<rect x="109.80" y="393.50" width="1.4" height="3.30" fill="#111"/>
<polygon points="107.80,396.20 113.20,396.20 110.50,401.60" fill="#111"/>
<rect x="168.90" y="393.50" width="1.4" height="3.30" fill="#111"/>
<polygon points="166.90,396.20 172.30,396.20 169.60,401.60" fill="#111"/>
<text x="224.60" y="367.80" font-size="11.2" text-anchor="start" font-weight="normal" fill="#000" textLength="30.30" lengthAdjust="spacingAndGlyphs" >rFVIIa</text>
<path d="M213.3,386 L213.3,378.5 L265.7,378.5 L265.7,402.7" fill="none" stroke="#111" stroke-width="1.7"/>
<line x1="240.80" y1="378.50" x2="240.80" y2="373.40" stroke="#111" stroke-width="1.6" />
<line x1="221.20" y1="378.50" x2="221.20" y2="386.00" stroke="#111" stroke-width="1.7" />
<line x1="228.70" y1="378.50" x2="228.70" y2="386.00" stroke="#111" stroke-width="1.7" />
<polygon points="210.50,385.6 216.10,385.6 213.30,391.3" fill="#111"/>
<polygon points="218.40,385.6 224.00,385.6 221.20,391.3" fill="#111"/>
<polygon points="225.90,385.6 231.50,385.6 228.70,391.3" fill="#111"/>
<line x1="237.90" y1="378.50" x2="237.90" y2="402.70" stroke="#111" stroke-width="1.7" />
<text x="205.70" y="398.00" font-size="7.6" text-anchor="start" font-weight="normal" fill="#000" textLength="21.30" lengthAdjust="spacingAndGlyphs" >2.4mg</text>
<text x="214.40" y="404.20" font-size="7.6" text-anchor="start" font-weight="normal" fill="#000" textLength="7.40" lengthAdjust="spacingAndGlyphs" >x3</text>
<text x="227.50" y="410.20" font-size="7.6" text-anchor="start" font-weight="normal" fill="#000" textLength="20.30" lengthAdjust="spacingAndGlyphs" >7.2mg</text>
<text x="252.10" y="410.20" font-size="7.6" text-anchor="start" font-weight="normal" fill="#000" textLength="20.80" lengthAdjust="spacingAndGlyphs" >7.2mg</text>
<rect x="237.10" y="414.40" width="1.6" height="8.20" fill="#111"/>
<polygon points="235.10,422.00 240.70,422.00 237.90,428.00" fill="#111"/>
<rect x="264.90" y="414.40" width="1.6" height="8.20" fill="#111"/>
<polygon points="262.90,422.00 268.50,422.00 265.70,428.00" fill="#111"/>
<text x="17.60" y="465.50" font-size="17.8" text-anchor="start" font-weight="bold" fill="#000" textLength="11.80" lengthAdjust="spacingAndGlyphs" >C</text>
<line x1="47.90" y1="483.60" x2="47.90" y2="494.00" stroke="#111" stroke-width="2" />
<line x1="47.90" y1="497.60" x2="47.90" y2="659.50" stroke="#111" stroke-width="2" />
<line x1="41.70" y1="497.70" x2="50.60" y2="491.60" stroke="#111" stroke-width="1.7" />
<line x1="44.40" y1="500.40" x2="53.00" y2="494.30" stroke="#111" stroke-width="1.7" />
<line x1="39.00" y1="658.30" x2="47.90" y2="658.30" stroke="#111" stroke-width="2" />
<text x="37.00" y="661.20" font-size="11" text-anchor="end" font-weight="normal" fill="#000" >0</text>
<line x1="42.90" y1="643.24" x2="47.90" y2="643.24" stroke="#111" stroke-width="2" />
<line x1="39.00" y1="628.18" x2="47.90" y2="628.18" stroke="#111" stroke-width="2" />
<text x="37.00" y="631.08" font-size="11" text-anchor="end" font-weight="normal" fill="#000" >200</text>
<line x1="42.90" y1="613.12" x2="47.90" y2="613.12" stroke="#111" stroke-width="2" />
<line x1="39.00" y1="598.06" x2="47.90" y2="598.06" stroke="#111" stroke-width="2" />
<text x="37.00" y="600.96" font-size="11" text-anchor="end" font-weight="normal" fill="#000" >400</text>
<line x1="42.90" y1="583.00" x2="47.90" y2="583.00" stroke="#111" stroke-width="2" />
<line x1="39.00" y1="567.94" x2="47.90" y2="567.94" stroke="#111" stroke-width="2" />
<text x="37.00" y="570.84" font-size="11" text-anchor="end" font-weight="normal" fill="#000" >600</text>
<line x1="42.90" y1="552.88" x2="47.90" y2="552.88" stroke="#111" stroke-width="2" />
<line x1="39.00" y1="537.82" x2="47.90" y2="537.82" stroke="#111" stroke-width="2" />
<text x="37.00" y="540.72" font-size="11" text-anchor="end" font-weight="normal" fill="#000" >800</text>
<line x1="42.90" y1="522.76" x2="47.90" y2="522.76" stroke="#111" stroke-width="2" />
<line x1="39.00" y1="507.70" x2="47.90" y2="507.70" stroke="#111" stroke-width="2" />
<text x="37.00" y="510.60" font-size="11" text-anchor="end" font-weight="normal" fill="#000" >1000</text>
<line x1="39.00" y1="484.40" x2="47.90" y2="484.40" stroke="#111" stroke-width="2" />
<text x="36.90" y="488.30" font-size="11" text-anchor="end" font-weight="normal" fill="#000" >&gt;1500</text>
<line x1="46.60" y1="658.50" x2="65.30" y2="658.50" stroke="#111" stroke-width="2" />
<line x1="76.60" y1="658.50" x2="86.60" y2="658.50" stroke="#111" stroke-width="2" />
<line x1="97.90" y1="658.50" x2="468.00" y2="658.50" stroke="#111" stroke-width="2" />
<line x1="60.00" y1="658.50" x2="60.00" y2="664.80" stroke="#111" stroke-width="2" />
<line x1="81.20" y1="658.50" x2="81.20" y2="664.80" stroke="#111" stroke-width="2" />
<line x1="101.10" y1="658.50" x2="101.10" y2="664.80" stroke="#111" stroke-width="2" />
<text x="101.10" y="673.60" font-size="10.8" text-anchor="middle" font-weight="normal" fill="#000" >0</text>
<line x1="122.14" y1="658.50" x2="122.14" y2="664.80" stroke="#111" stroke-width="2" />
<text x="122.14" y="673.60" font-size="10.8" text-anchor="middle" font-weight="normal" fill="#000" >1</text>
<line x1="143.18" y1="658.50" x2="143.18" y2="664.80" stroke="#111" stroke-width="2" />
<text x="143.18" y="673.60" font-size="10.8" text-anchor="middle" font-weight="normal" fill="#000" >2</text>
<line x1="164.22" y1="658.50" x2="164.22" y2="664.80" stroke="#111" stroke-width="2" />
<text x="164.22" y="673.60" font-size="10.8" text-anchor="middle" font-weight="normal" fill="#000" >3</text>
<line x1="185.26" y1="658.50" x2="185.26" y2="664.80" stroke="#111" stroke-width="2" />
<text x="185.26" y="673.60" font-size="10.8" text-anchor="middle" font-weight="normal" fill="#000" >4</text>
<line x1="206.30" y1="658.50" x2="206.30" y2="664.80" stroke="#111" stroke-width="2" />
<text x="206.30" y="673.60" font-size="10.8" text-anchor="middle" font-weight="normal" fill="#000" >5</text>
<line x1="227.34" y1="658.50" x2="227.34" y2="664.80" stroke="#111" stroke-width="2" />
<text x="227.34" y="673.60" font-size="10.8" text-anchor="middle" font-weight="normal" fill="#000" >6</text>
<line x1="248.38" y1="658.50" x2="248.38" y2="664.80" stroke="#111" stroke-width="2" />
<text x="248.38" y="673.60" font-size="10.8" text-anchor="middle" font-weight="normal" fill="#000" >7</text>
<line x1="269.42" y1="658.50" x2="269.42" y2="664.80" stroke="#111" stroke-width="2" />
<text x="269.42" y="673.60" font-size="10.8" text-anchor="middle" font-weight="normal" fill="#000" >8</text>
<line x1="290.46" y1="658.50" x2="290.46" y2="664.80" stroke="#111" stroke-width="2" />
<text x="290.46" y="673.60" font-size="10.8" text-anchor="middle" font-weight="normal" fill="#000" >9</text>
<line x1="311.50" y1="658.50" x2="311.50" y2="664.80" stroke="#111" stroke-width="2" />
<text x="311.50" y="673.60" font-size="10.8" text-anchor="middle" font-weight="normal" fill="#000" >10</text>
<line x1="332.54" y1="658.50" x2="332.54" y2="664.80" stroke="#111" stroke-width="2" />
<text x="332.54" y="673.60" font-size="10.8" text-anchor="middle" font-weight="normal" fill="#000" >11</text>
<line x1="353.58" y1="658.50" x2="353.58" y2="664.80" stroke="#111" stroke-width="2" />
<text x="353.58" y="673.60" font-size="10.8" text-anchor="middle" font-weight="normal" fill="#000" >12</text>
<line x1="374.62" y1="658.50" x2="374.62" y2="664.80" stroke="#111" stroke-width="2" />
<text x="374.62" y="673.60" font-size="10.8" text-anchor="middle" font-weight="normal" fill="#000" >13</text>
<line x1="395.66" y1="658.50" x2="395.66" y2="664.80" stroke="#111" stroke-width="2" />
<text x="395.66" y="673.60" font-size="10.8" text-anchor="middle" font-weight="normal" fill="#000" >14</text>
<line x1="416.70" y1="658.50" x2="416.70" y2="664.80" stroke="#111" stroke-width="2" />
<text x="416.70" y="673.60" font-size="10.8" text-anchor="middle" font-weight="normal" fill="#000" >15</text>
<line x1="437.74" y1="658.50" x2="437.74" y2="664.80" stroke="#111" stroke-width="2" />
<text x="437.74" y="673.60" font-size="10.8" text-anchor="middle" font-weight="normal" fill="#000" >16</text>
<line x1="458.78" y1="658.50" x2="458.78" y2="664.80" stroke="#111" stroke-width="2" />
<text x="458.78" y="673.60" font-size="10.8" text-anchor="middle" font-weight="normal" fill="#000" >17</text>
<text x="54.70" y="673.80" font-size="10.5" text-anchor="start" font-weight="normal" fill="#000" >p</text>
<text x="60.60" y="676.30" font-size="7" text-anchor="start" font-weight="normal" fill="#000" >2</text>
<text x="76.30" y="673.80" font-size="10.5" text-anchor="start" font-weight="normal" fill="#000" >p</text>
<text x="82.20" y="676.30" font-size="7" text-anchor="start" font-weight="normal" fill="#000" >1</text>
<line x1="101.50" y1="483.00" x2="101.50" y2="657.50" stroke="#333" stroke-width="1.2" stroke-dasharray="1.5 1.4"/>
<rect x="180.3" y="483" width="10.20" height="175.00" fill="#fe0000"/>
<rect x="201.3" y="483" width="10.10" height="175.00" fill="#fe0000"/>
<rect x="223.2" y="483" width="10.00" height="175.00" fill="#fe0000"/>
<rect x="244.3" y="507" width="10.00" height="151.00" fill="#fe0000"/>
<rect x="264.9" y="537.3" width="10.00" height="120.70" fill="#fe0000"/>
<rect x="286.1" y="597.9" width="9.80" height="60.10" fill="#fe0000"/>
<rect x="307.1" y="582.2" width="10.00" height="75.80" fill="#fe0000"/>
<rect x="328.7" y="620.2" width="9.90" height="37.80" fill="#fe0000"/>
<rect x="349.7" y="650.6" width="9.90" height="7.40" fill="#fe0000"/>
<rect x="370.4" y="652.0" width="10.00" height="6.00" fill="#fe0000"/>
<rect x="392.3" y="657.0" width="9.00" height="1.00" fill="#fe0000"/>
<rect x="412.3" y="655.0" width="10.40" height="3.00" fill="#fe0000"/>
<polygon points="180.3,492.2 190.5,487.1 190.5,493.0 180.3,498.2" fill="#fff"/>
<polygon points="201.3,492.2 211.4,487.1 211.4,493.0 201.3,498.2" fill="#fff"/>
<polygon points="223.2,492.2 233.2,487.1 233.2,493.0 223.2,498.2" fill="#fff"/>
<text x="144.60" y="468.80" font-size="13" text-anchor="start" font-weight="normal" fill="#000" textLength="91.90" lengthAdjust="spacingAndGlyphs" >Operating room</text>
<path d="M111.2,486 L111.2,481.6 Q111.2,479.4 113.4,479.4 L269.5,479.4 Q271.7,479.4 271.7,481.6 L271.7,486" fill="none" stroke="#111" stroke-width="2"/>
<line x1="191.90" y1="479.40" x2="191.90" y2="471.30" stroke="#111" stroke-width="2" />
<text x="139.80" y="533.80" font-size="13" text-anchor="middle" font-weight="normal" fill="#000" textLength="43.30" lengthAdjust="spacingAndGlyphs" >Cardio-</text>
<text x="138.90" y="547.70" font-size="13" text-anchor="middle" font-weight="normal" fill="#000" textLength="60.70" lengthAdjust="spacingAndGlyphs" >pulmonary</text>
<text x="139.40" y="560.80" font-size="13" text-anchor="middle" font-weight="normal" fill="#000" textLength="41.80" lengthAdjust="spacingAndGlyphs" >bypass</text>
<path d="M111.1,585.4 L111.1,578.6 Q111.1,575.7 114,575.7 L134.6,575.7 Q137.2,575.7 137.2,573.2 Q137.2,575.7 139.8,575.7 L160.2,575.7 Q163.1,575.7 163.1,578.6 L163.1,585.4" fill="none" stroke="#111" stroke-width="2.1"/>
<line x1="137.20" y1="574.00" x2="137.20" y2="565.20" stroke="#111" stroke-width="2.1" />
<text x="256.50" y="503.30" font-size="11" text-anchor="start" font-weight="normal" fill="#000" textLength="151.00" lengthAdjust="spacingAndGlyphs" >Transfer to intensive care unit</text>
<rect x="272.85" y="506.60" width="1.5" height="11.50" fill="#111"/>
<polygon points="270.90,517.50 276.30,517.50 273.60,523.50" fill="#111"/>
<text x="148.30" y="687.60" font-size="11.3" text-anchor="start" font-weight="bold" fill="#000" textLength="198.00" lengthAdjust="spacingAndGlyphs" >Hours after Starting Cardiac Surgery</text>
<text x="13.50" y="576.35" font-size="11.3" text-anchor="middle" font-weight="bold" fill="#000" textLength="85.70" lengthAdjust="spacingAndGlyphs" transform="rotate(-90 13.50 576.35)" >Bleeding, mL/hr</text>
</svg>
</body></html>
